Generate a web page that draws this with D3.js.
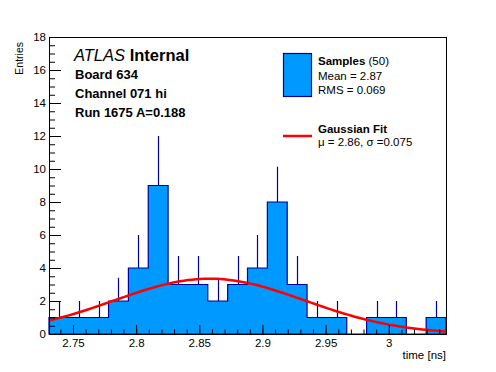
<!DOCTYPE html>
<html>
<head>
<meta charset="utf-8">
<script src="https://cdn.jsdelivr.net/npm/d3@7"></script>
<style>
  body { margin: 0; background: #fff; }
  svg { display: block; font-family: "Liberation Sans", Arial, Helvetica, sans-serif; }
</style>
</head>
<body>
<div id="chart"></div>
<script>
// histogram binning (20 bins)
const xMin = 2.731;
const binWidth = 0.015715;
const counts = [1, 1, 1, 2, 4, 9, 3, 3, 2, 3, 4, 8, 3, 1, 1, 0, 1, 1, 0, 1];
const errors = [1, 1, 1, 1.41, 2, 3, 1.73, 1.73, 1.41, 1.73, 2, 2.14, 1.73, 1, 1, 0, 1, 1, 0, 1];

// gaussian fit: amplitude, mean, sigma
const fitParams = [3.35, 2.858, 0.0755];

const xMajorTicks = [2.75, 2.8, 2.85, 2.9, 2.95, 3.0];
const xTickLabels = ["2.75", "2.8", "2.85", "2.9", "2.95", "3"];
const yMajorTicks = [0, 2, 4, 6, 8, 10, 12, 14, 16, 18];

const infoLines = ["Board 634", "Channel 071 hi", "Run 1675 A=0.188"];

const width = 496, height = 372;
const frameL = 49, frameR = 446, frameT = 37, frameB = 334;

const svg = d3.select("#chart").append("svg")
  .attr("width", width)
  .attr("height", height);

const xMax = xMin + counts.length * binWidth;
const x = d3.scaleLinear().domain([xMin, xMax]).range([frameL, frameR]);
const y = d3.scaleLinear().domain([0, 18]).range([frameB, frameT]);

const fillColor = "#0099ff";
const lineColor = "#000099";

// histogram steps
let pts = [[xMin, 0]];
counts.forEach((c, i) => {
  pts.push([xMin + i * binWidth, c]);
  pts.push([xMin + (i + 1) * binWidth, c]);
});
pts.push([xMax, 0]);

const step = d3.line().x(d => x(d[0])).y(d => y(d[1]));

svg.append("path")
  .attr("d", step(pts) + "Z")
  .attr("fill", fillColor)
  .attr("stroke", lineColor)
  .attr("stroke-width", 1.2);

// error bars (upper half visible)
svg.append("g").selectAll("line")
  .data(counts.map((c, i) => ({c: c, e: errors[i], i: i})).filter(d => d.c > 0))
  .enter().append("line")
  .attr("x1", d => Math.round(x(xMin + (d.i + 0.5) * binWidth)) + 0.5)
  .attr("x2", d => Math.round(x(xMin + (d.i + 0.5) * binWidth)) + 0.5)
  .attr("y1", d => y(d.c))
  .attr("y2", d => y(d.c + d.e))
  .attr("stroke", lineColor)
  .attr("stroke-width", 1.2);

// gaussian fit curve
const gaus = function(t) {
  let z = (t - fitParams[1]) / fitParams[2];
  return fitParams[0] * Math.exp(-0.5 * z * z);
};
const curveX = d3.range(0, 101).map(k => xMin + (xMax - xMin) * k / 100);
svg.append("path")
  .attr("d", d3.line().x(d => x(d)).y(d => y(gaus(d)))(curveX))
  .attr("fill", "none")
  .attr("stroke", "#ff0000")
  .attr("stroke-width", 2.5);

// axes
const xMinor = d3.range(2.74, 3.045, 0.01);
const yMinor = d3.range(0, 18.01, 0.5);

const gx = svg.append("g").attr("transform", "translate(0," + frameB + ")");
gx.call(d3.axisBottom(x).tickValues(xMinor).tickSize(-4.5).tickFormat(""));
gx.append("g").call(d3.axisBottom(x).tickValues(xMajorTicks).tickSize(-9).tickPadding(5)
  .tickFormat((d, i) => xTickLabels[i]));
gx.selectAll(".domain").remove();

const gy = svg.append("g").attr("transform", "translate(" + frameL + ",0)");
gy.call(d3.axisLeft(y).tickValues(yMinor).tickSize(-6).tickFormat(""));
gy.append("g").call(d3.axisLeft(y).tickValues(yMajorTicks).tickSize(-12).tickPadding(3));
gy.selectAll(".domain").remove();

svg.selectAll(".tick line").attr("stroke", "#000");
svg.selectAll(".tick text")
  .attr("fill", "#000")
  .style("font-size", "11.5px")
  .style("font-family", "'Liberation Sans', Arial, sans-serif");

// frame
svg.append("rect")
  .attr("x", frameL + 0.5).attr("y", frameT + 0.5)
  .attr("width", frameR - frameL).attr("height", frameB - frameT)
  .attr("fill", "none")
  .attr("stroke", "#000")
  .attr("stroke-width", 1);

// axis titles
svg.append("text")
  .attr("x", frameR).attr("y", 359)
  .attr("text-anchor", "end")
  .style("font-size", "11.5px")
  .text("time [ns]");

svg.append("text")
  .attr("transform", "translate(23,42) rotate(-90)")
  .attr("text-anchor", "end")
  .style("font-size", "10.5px")
  .text("Entries");

// ATLAS label
let atlas = svg.append("text")
  .attr("x", 74).attr("y", 61)
  .style("font-size", "16.5px");
atlas.append("tspan").style("font-style", "italic").text("ATLAS");
atlas.append("tspan").style("font-weight", "bold").text(" Internal");

svg.append("g").selectAll("text")
  .data(infoLines)
  .enter().append("text")
  .attr("x", 75)
  .attr("y", (d, i) => 79 + i * 19)
  .style("font-size", "13px")
  .style("font-weight", "bold")
  .text(d => d);

// legend
svg.append("rect")
  .attr("x", 283.5).attr("y", 53.5)
  .attr("width", 28).attr("height", 43)
  .attr("fill", fillColor)
  .attr("stroke", lineColor)
  .attr("stroke-width", 1.2);

let samp = svg.append("text").attr("x", 318).attr("y", 65).style("font-size", "11.5px");
samp.append("tspan").style("font-weight", "bold").text("Samples");
samp.append("tspan").text(" (50)");

svg.append("text").attr("x", 318).attr("y", 79.5).style("font-size", "11.5px").text("Mean = 2.87");
svg.append("text").attr("x", 318).attr("y", 93.5).style("font-size", "11.5px").text("RMS = 0.069");

svg.append("line")
  .attr("x1", 283).attr("x2", 312)
  .attr("y1", 136).attr("y2", 136)
  .attr("stroke", "#ff0000")
  .attr("stroke-width", 2.5);

svg.append("text").attr("x", 318).attr("y", 133).style("font-size", "11.5px")
  .style("font-weight", "bold").text("Gaussian Fit");
svg.append("text").attr("x", 318).attr("y", 146).style("font-size", "11.5px")
  .text("\u03bc = 2.86, \u03c3 =0.075");
</script>
</body>
</html>
